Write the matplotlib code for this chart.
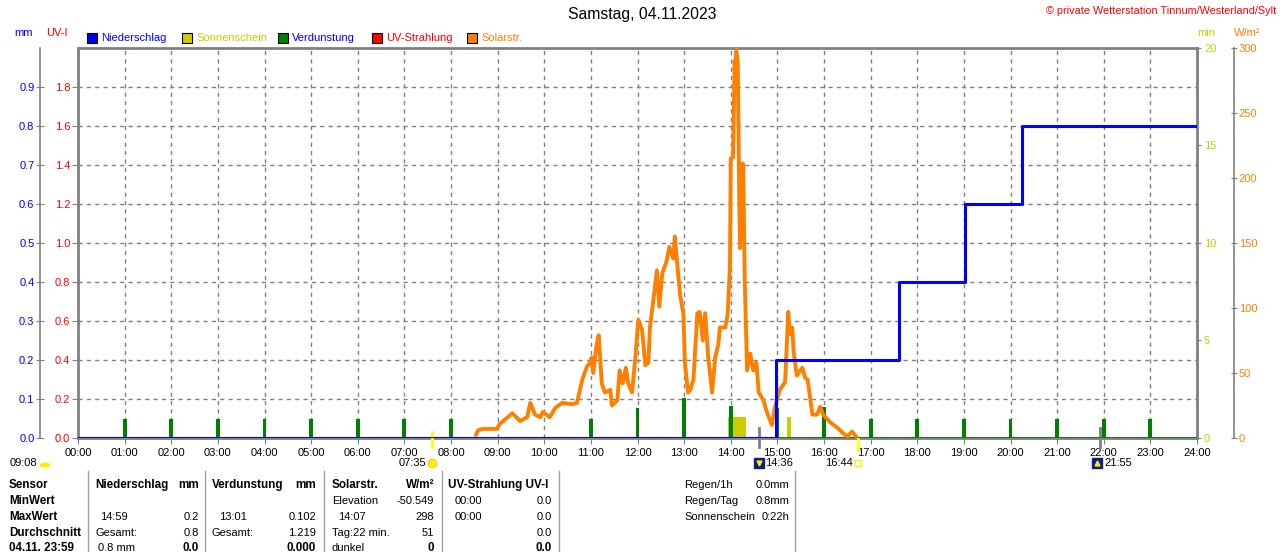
import matplotlib
matplotlib.use('Agg')
import matplotlib.pyplot as plt
import numpy as np
from matplotlib.patches import Rectangle
from matplotlib.transforms import blended_transform_factory

plt.rcParams['font.family'] = ['Liberation Sans', 'DejaVu Sans']

# ---------------- data ----------------
hours = list(range(0, 25))
hour_labels = [f"{h:02d}:00" for h in hours]

uv_ticks = [0.0, 0.2, 0.4, 0.6, 0.8, 1.0, 1.2, 1.4, 1.6, 1.8]
mm_ticks = [0.0, 0.1, 0.2, 0.3, 0.4, 0.5, 0.6, 0.7, 0.8, 0.9]
min_ticks = [0, 5, 10, 15, 20]
wm2_ticks = [0, 50, 100, 150, 200, 250, 300]

# solar radiation (minutes since midnight, W/m2)
solar_minute = [511, 515, 521, 539, 543, 559, 569, 578, 582, 588,
                595, 598, 607, 614, 623, 636, 642, 649, 655, 659,
                661, 663, 667, 670, 674, 678, 685, 687, 694, 697,
                701, 705, 708, 713, 717, 721, 726, 730, 734, 736,
                740, 745, 748, 752, 757, 761, 766, 768, 771, 775,
                779, 781, 785, 788, 792, 797, 800, 804, 807, 811,
                816, 820, 824, 826, 833, 836, 839, 840, 843, 845,
                846, 847, 849, 850, 851, 852, 854, 855, 856, 858,
                861, 865, 869, 873, 876, 882, 887, 893, 897, 903,
                910, 914, 916, 919, 921, 925, 932, 936, 939, 945,
                951, 955, 959, 968, 977, 984, 990, 996, 1000, 1003]
solar_wm2 = [1, 6, 7, 7, 11, 19, 13, 16, 27, 18,
             16, 20, 16, 23, 27, 26, 27, 45, 55, 58,
             62, 50, 70, 79, 42, 35, 37, 25, 29, 52,
             42, 54, 42, 35, 60, 91, 83, 56, 58, 85,
             104, 129, 101, 127, 135, 147, 138, 155, 135, 109,
             96, 58, 35, 37, 45, 96, 97, 75, 96, 62,
             35, 62, 72, 85, 85, 95, 132, 215, 216, 290,
             271, 298, 290, 237, 180, 146, 211, 154, 211, 122,
             52, 65, 52, 58, 35, 29, 19, 10, 24, 37,
             43, 97, 80, 85, 66, 48, 54, 46, 45, 18,
             18, 24, 18, 12, 8, 4, 1, 5, 2, 0]

# cumulative precipitation (hours, mm)
rain_time_h = [0.0, 14.97, 17.61, 19.02, 20.25, 24.0]
rain_cum_mm = [0.0, 0.2, 0.4, 0.6, 0.8, 0.8]

# evaporation per hour (mm)
evap_hour = list(range(1, 24))
evap_mm = [0.05, 0.05, 0.05, 0.05, 0.05, 0.05, 0.05, 0.05, 0.0, 0.0,
           0.05, 0.078, 0.102, 0.082, 0.077, 0.08, 0.05, 0.05, 0.05, 0.05,
           0.05, 0.05, 0.05]

# sunshine blocks (start h, end h, minutes)
sun_start_h = [13.95, 15.20]
sun_end_h = [14.32, 15.29]
sun_minutes = [1.07, 1.09]

# astronomical marks
sunrise_h, sunset_h = 7 + 35 / 60, 16 + 44 / 60
moonset_h, moonrise_h = 14 + 36 / 60, 21 + 55 / 60
solar_max_h = 14 + 7 / 60

title = "Samstag, 04.11.2023"
copyright_txt = "\u00a9 private Wetterstation Tinnum/Westerland/Sylt"
legend_names = ["Niederschlag", "Sonnenschein", "Verdunstung", "UV-Strahlung", "Solarstr."]

# ---------------- colours ----------------
BLUE = '#0000FF'
YEL = '#CCCC00'
GREEN = '#008000'
RED = '#FF0000'
ORANGE = '#FF8000'
GRAY = '#808080'

W, H = 1280, 552
fig = plt.figure(figsize=(12.8, 5.52), dpi=100)


def fx(px):
    return px / W


def fy(py):
    return 1 - py / H


FS = 8
FSB = 8.4

ax = fig.add_axes([fx(78), fy(438), fx(1197) - fx(78), fy(48) - fy(438)])
ax.set_xlim(0, 24)
ax.set_ylim(0, 2)
ax.set_xticks(hours)
ax.set_xticklabels(hour_labels, fontsize=FS)
ax.set_yticks(uv_ticks)
ax.set_yticklabels([f"{v:.1f}" for v in uv_ticks], fontsize=FS, color=RED)
ax.tick_params(axis='x', length=4, color=GRAY, pad=3)
ax.tick_params(axis='y', length=4, color=GRAY, pad=1.5)
for y in np.arange(0.2, 2.0, 0.2):
    ax.axhline(y, color=GRAY, lw=1, ls=(0, (3, 3)), zorder=0)
for h in hours[1:-1]:
    ax.axvline(h, color=GRAY, lw=1, ls=(0, (3, 3)), zorder=0)
for s in ax.spines.values():
    s.set_color(GRAY)
    s.set_linewidth(2)

# sunshine axis (min)
ax_sun = ax.twinx()
ax_sun.set_ylim(0, 20)
ax_sun.set_yticks(min_ticks)
ax_sun.set_yticklabels([str(v) for v in min_ticks], fontsize=FS, color=YEL)
ax_sun.tick_params(axis='y', length=3, color=GRAY, pad=2)
for s in ax_sun.spines.values():
    s.set_visible(False)
for a, b, m in zip(sun_start_h, sun_end_h, sun_minutes):
    ax_sun.bar(a, m, width=b - a, align='edge', color=YEL, lw=0)

# evaporation axis (mm, hidden)
ax_ev = ax.twinx()
ax_ev.set_ylim(0, 1)
ax_ev.yaxis.set_visible(False)
for s in ax_ev.spines.values():
    s.set_visible(False)
ax_ev.plot([0, 24], [0, 0], color=GREEN, lw=2)
ax_ev.bar(evap_hour, evap_mm, width=0.085, color=GREEN, lw=0)

# solar radiation axis
ax_w = ax.twinx()
for s in ax_w.spines.values():
    s.set_visible(False)
ax_w.spines['right'].set_visible(True)
ax_w.spines['right'].set_position(('axes', (1234 - 78) / 1119))
ax_w.spines['right'].set_color(GRAY)
ax_w.spines['right'].set_linewidth(1.2)
ax_w.set_ylim(0, 300)
ax_w.set_yticks(wm2_ticks)
ax_w.set_yticklabels([str(v) for v in wm2_ticks], fontsize=FS, color=ORANGE)
ax_w.tick_params(axis='y', direction='inout', length=5, color=GRAY, pad=1)
ax_w.plot(np.array(solar_minute) / 60.0, solar_wm2, color=ORANGE, lw=2.8,
          solid_joinstyle='round', solid_capstyle='butt')

# precipitation axis (mm) on far left
ax_mm = ax.twinx()
ax_mm.yaxis.tick_left()
ax_mm.yaxis.set_label_position('left')
for s in ax_mm.spines.values():
    s.set_visible(False)
ax_mm.spines['left'].set_visible(True)
ax_mm.spines['left'].set_position(('axes', (40 - 78) / 1119))
ax_mm.spines['left'].set_color(GRAY)
ax_mm.spines['left'].set_linewidth(1.2)
ax_mm.set_ylim(0, 1)
ax_mm.set_yticks(mm_ticks)
ax_mm.set_yticklabels([f"{v:.1f}" for v in mm_ticks], fontsize=FS, color=BLUE)
ax_mm.tick_params(axis='y', direction='inout', length=6, color=GRAY, pad=1)
ax_mm.plot(rain_time_h, rain_cum_mm, drawstyle='steps-post', color=BLUE, lw=2.2)

# marks crossing the axis
tr = blended_transform_factory(ax.transData, ax.transAxes)
ax.plot([sunrise_h, sunrise_h], [0.015, -0.023], color='#FFFF00', lw=2, transform=tr, clip_on=False, zorder=6)
ax.plot([sunset_h, sunset_h], [0.003, -0.031], color='#FFFF00', lw=2, transform=tr, clip_on=False, zorder=6)
for mh in (moonset_h, moonrise_h):
    ax.plot([mh, mh], [0.026, -0.023], color=GRAY, lw=2, transform=tr, clip_on=False, zorder=6)
ax.plot([solar_max_h, solar_max_h], [1.0, 0.985], color=ORANGE, lw=2, transform=tr, clip_on=False, zorder=6)

# marker row below axis
trf = blended_transform_factory(ax.transData, fig.transFigure)
yrow = fy(463)
fig.text(fx(10), yrow, "09:08", fontsize=FS, ha='left', va='center')
fig.add_artist(plt.Circle((fx(45), fy(465)), 0.0035, color='#FFEE00', transform=fig.transFigure))
ax.text(sunrise_h - 0.12, yrow, "07:35", fontsize=FS, ha='right', va='center', transform=trf)
ax.plot([sunrise_h], [yrow], marker='o', ms=6, color='#FFEE00', mec='#FFD000', transform=trf, clip_on=False)
ax.text(moonset_h + 0.13, yrow, "14:36", fontsize=FS, ha='left', va='center', transform=trf)
ax.plot([moonset_h], [yrow], marker='s', ms=7, color='#102080', transform=trf, clip_on=False)
ax.plot([moonset_h], [yrow], marker='v', ms=3.5, color='#FFEE00', transform=trf, clip_on=False)
ax.text(sunset_h - 0.12, yrow, "16:44", fontsize=FS, ha='right', va='center', transform=trf)
ax.plot([sunset_h], [yrow], marker='s', ms=4, mfc='none', mec='#FFEE00', transform=trf, clip_on=False)
ax.text(moonrise_h + 0.1, yrow, "21:55", fontsize=FS, ha='left', va='center', transform=trf)
ax.plot([moonrise_h - 0.07], [yrow], marker='s', ms=7, color='#102080', transform=trf, clip_on=False)
ax.plot([moonrise_h - 0.07], [yrow], marker='^', ms=3.5, color='#FFEE00', transform=trf, clip_on=False)

# header texts
fig.text(fx(642), fy(15), title, fontsize=11.3, ha='center', va='center')
fig.text(fx(1276), fy(11), copyright_txt, fontsize=7.8, color=RED, ha='right', va='center')
fig.text(fx(14), fy(33), "mm", fontsize=FS, color=BLUE, ha='left', va='center')
fig.text(fx(46), fy(33), "UV-I", fontsize=FS, color=RED, ha='left', va='center')
fig.text(fx(1197), fy(33), "min", fontsize=FS, color=YEL, ha='left', va='center')
fig.text(fx(1234), fy(33), "W/m\u00b2", fontsize=FS, color=ORANGE, ha='left', va='center')

leg_x = [87, 182, 278, 372, 467]
leg_fill = [BLUE, YEL, GREEN, RED, ORANGE]
leg_txt = [BLUE, YEL, BLUE, RED, ORANGE]
for x0, name, fc, tc in zip(leg_x, legend_names, leg_fill, leg_txt):
    fig.add_artist(Rectangle((fx(x0), fy(43)), 10 / W, 10 / H, facecolor=fc,
                             edgecolor='black', lw=0.8, transform=fig.transFigure))
    fig.text(fx(x0 + 14), fy(38), name, fontsize=FS, color=tc, ha='left', va='center')

# ---------------- bottom table ----------------
row_y = [485, 501, 517, 533, 548]
sensor_rows = ["Sensor", "MinWert", "MaxWert", "Durchschnitt", "04.11. 23:59"]
for y, s in zip(row_y, sensor_rows):
    fig.text(fx(9), fy(y), s, fontsize=FSB, weight='bold', ha='left', va='center')

for xl in [88, 205, 324, 442, 559, 795]:
    fig.add_artist(plt.Line2D([fx(xl), fx(xl)], [fy(471), fy(552)], color='#A0A0A0', lw=1,
                              transform=fig.transFigure))

columns = [
    (95, 199, "Niederschlag", "mm",
     [("", 0, "", False), ("14:59", 5, "0.2", False), ("Gesamt:", 0, "0.8", False), ("0.8 mm", 3, "0.0", True)]),
    (212, 316, "Verdunstung", "mm",
     [("", 0, "", False), ("13:01", 7, "0.102", False), ("Gesamt:", 0, "1.219", False), ("", 0, "0.000", True)]),
    (332, 434, "Solarstr.", "W/m\u00b2",
     [("Elevation", 0, "-50.549", False), ("14:07", 6, "298", False), ("Tag:22 min.", 0, "51", False), ("dunkel", 0, "0", True)]),
    (448, 552, "UV-Strahlung UV-I", "",
     [("00:00", 7, "0.0", False), ("00:00", 7, "0.0", False), ("", 0, "0.0", False), ("", 0, "0.0", True)]),
]
for xl, xr, hl, hr, rows in columns:
    fig.text(fx(xl), fy(row_y[0]), hl, fontsize=FSB, weight='bold', ha='left', va='center')
    if hr:
        fig.text(fx(xr), fy(row_y[0]), hr, fontsize=FSB, weight='bold', ha='right', va='center')
    for y, (lt, ind, rt, rb) in zip(row_y[1:], rows):
        if lt:
            fig.text(fx(xl + ind), fy(y), lt, fontsize=FS, ha='left', va='center')
        if rt:
            fig.text(fx(xr), fy(y), rt, fontsize=FSB if rb else FS, ha='right', va='center',
                     weight='bold' if rb else 'normal')

summary_names = ["Regen/1h", "Regen/Tag", "Sonnenschein"]
summary_vals = ["0.0mm", "0.8mm", "0:22h"]
for y, n, v in zip(row_y[:3], summary_names, summary_vals):
    fig.text(fx(684), fy(y), n, fontsize=FS, ha='left', va='center')
    fig.text(fx(789), fy(y), v, fontsize=FS, ha='right', va='center')

fig.savefig('out.png', dpi=100)
